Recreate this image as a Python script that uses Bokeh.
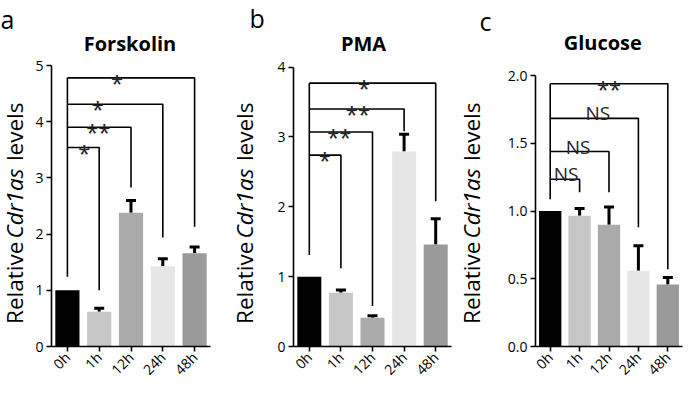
from math import pi
from bokeh.plotting import figure
from bokeh.layouts import row
from bokeh.models import ColumnDataSource, Whisker, TeeHead, Label, FixedTicker, NumeralTickFormatter
from bokeh.embed import file_html
from bokeh.resources import INLINE

# ---------------- data ----------------
categories = ["0h", "1h", "12h", "24h", "48h"]
bar_colors = ["#000000", "#c6c6c6", "#aaaaaa", "#e6e6e6", "#9a9a9a"]

forskolin_mean = [1.00, 0.62, 2.38, 1.43, 1.66]
forskolin_err = [0.00, 0.06, 0.22, 0.13, 0.11]
forskolin_bracket_level = [3.54, 3.90, 4.31, 4.78]
forskolin_bracket_end = [1.00, 2.83, 1.94, 2.13]
forskolin_bracket_start = 1.24
forskolin_sig = ["*", "**", "*", "*"]

pma_mean = [1.00, 0.77, 0.41, 2.79, 1.46]
pma_err = [0.00, 0.04, 0.03, 0.25, 0.37]
pma_bracket_level = [2.74, 3.07, 3.40, 3.77]
pma_bracket_end = [1.12, 0.58, 3.08, 2.08]
pma_bracket_start = 1.31
pma_sig = ["*", "**", "**", "*"]

glucose_mean = [1.00, 0.965, 0.90, 0.56, 0.457]
glucose_err = [0.00, 0.055, 0.13, 0.185, 0.053]
glucose_bracket_level = [1.235, 1.44, 1.685, 1.94]
glucose_bracket_end = [1.14, 1.14, 0.88, 0.57]
glucose_bracket_start = 1.087
glucose_sig = ["NS", "NS", "NS", "**"]

y_ticks_forskolin = [0, 1, 2, 3, 4, 5]
y_ticks_pma = [0, 1, 2, 3, 4]
y_ticks_glucose = [0, 0.5, 1.0, 1.5, 2.0]

ylabel_parts = ["Relative", "Cdr1as", "levels"]
ylabel_styles = ["normal", "italic", "normal"]

# ---------------- layout / style (page pixel geometry) ----------------
FONT = "Open Sans"
H = 391
PAGE0 = 8            # page margin
FRAME_BOTTOM = 354   # page y of the x axis
BB = H - (FRAME_BOTTOM - PAGE0)  # bottom border

panels = [
    dict(letter="a", title="Forskolin", mean=forskolin_mean, err=forskolin_err,
         lev=forskolin_bracket_level, end=forskolin_bracket_end, start=forskolin_bracket_start,
         sig=forskolin_sig, ticks=y_ticks_forskolin, fmt="0", ymax=5,
         strip=(8, 37), chart=(37, 236), frame=(59, 218), top=73,
         sig_x=[0.53, 0.97, 0.96, 1.56],
         title_p=(137.5, 50.5), letter_p=(8, 29), ylab_x=22),
    dict(letter="b", title="PMA", mean=pma_mean, err=pma_err,
         lev=pma_bracket_level, end=pma_bracket_end, start=pma_bracket_start,
         sig=pma_sig, ticks=y_ticks_pma, fmt="0", ymax=4,
         strip=(236, 279), chart=(279, 462), frame=(301, 459), top=74.6,
         sig_x=[0.49, 0.95, 1.54, 1.73],
         title_p=(371, 50.5), letter_p=(257, 28), ylab_x=252),
    dict(letter="c", title="Glucose", mean=glucose_mean, err=glucose_err,
         lev=glucose_bracket_level, end=glucose_bracket_end, start=glucose_bracket_start,
         sig=glucose_sig, ticks=y_ticks_glucose, fmt="0.0", ymax=2.0,
         strip=(462, 511), chart=(511, 692), frame=(543, 690), top=83.2,
         sig_x=[0.54, 0.95, 1.62, 2.0],
         title_p=(610.3, 50), letter_p=(487, 31), ylab_x=479),
]

X0, X1 = -0.5, 4.5
YLAB_FONT = 22.5
YLAB_BOTTOM = 331                 # page y where the rotated y label starts
YLAB_WIDTHS = [85.0, 74.0, 59.0]  # estimated length of each piece (px)
YLAB_GAP = 6                      # word space (px)

# anchor positions of the rotated pieces (Bokeh centres a left-aligned rotated
# label one text-length above its anchor)
ylab_anchor = []
_b = YLAB_BOTTOM
for wdt in YLAB_WIDTHS:
    ylab_anchor.append(_b + wdt / 2)
    _b -= wdt + YLAB_GAP

figs = []
for spec in panels:
    # ---------- strip with panel letter and y label ----------
    s0, s1 = spec["strip"]
    sw = s1 - s0
    st = figure(width=sw, height=H, x_range=(0, sw), y_range=(0, H),
                output_backend="svg", toolbar_location=None,
                x_axis_location=None, y_axis_location=None,
                min_border_left=0, min_border_right=0, min_border_top=0, min_border_bottom=0)
    st.outline_line_color = None
    st.grid.visible = False
    st.background_fill_color = "white"
    st.border_fill_color = "white"

    lx, ly = spec["letter_p"]
    st.add_layout(Label(x=lx - s0, y=H - (ly - PAGE0), text=spec["letter"], text_font=FONT,
                        text_font_size="25px", text_align="left", text_baseline="alphabetic",
                        text_color="black"))
    for txt, style, ay in zip(ylabel_parts, ylabel_styles, ylab_anchor):
        st.add_layout(Label(x=spec["ylab_x"] - s0, y=H - (ay - PAGE0), text=txt, text_font=FONT,
                            angle=pi / 2, text_font_size=f"{YLAB_FONT}px", text_font_style=style,
                            text_align="left", text_baseline="middle", text_color="black"))
    figs.append(st)

    # ---------- chart ----------
    c0, c1 = spec["chart"]
    f0, f1 = spec["frame"]
    ymax = spec["ymax"]
    top_px = spec["top"] - PAGE0
    fb_px = FRAME_BOTTOM - PAGE0
    ppu = (fb_px - top_px) / ymax          # pixels per y unit
    y_end = fb_px / ppu
    xppu = (f1 - f0) / (X1 - X0)

    p = figure(width=c1 - c0, height=H, x_range=(X0, X1), y_range=(0, y_end),
               output_backend="svg", toolbar_location=None,
               min_border_left=f0 - c0, min_border_right=c1 - f1,
               min_border_top=0, min_border_bottom=BB)
    p.outline_line_color = None
    p.xgrid.visible = False
    p.ygrid.visible = False
    p.background_fill_color = "white"
    p.border_fill_color = "white"

    idx = list(range(len(categories)))
    src = ColumnDataSource(dict(x=idx, top=spec["mean"], color=bar_colors))
    p.vbar(x="x", top="top", bottom=0, width=0.76, fill_color="color", line_color=None, source=src)

    # error bars (upper only)
    ex = [i for i, e in zip(idx, spec["err"]) if e > 0]
    elo = [m for m, e in zip(spec["mean"], spec["err"]) if e > 0]
    ehi = [m + e for m, e in zip(spec["mean"], spec["err"]) if e > 0]
    esrc = ColumnDataSource(dict(base=ex, lower=elo, upper=ehi))
    p.add_layout(Whisker(base="base", lower="lower", upper="upper", source=esrc,
                         line_width=3, line_color="black", lower_head=None,
                         upper_head=TeeHead(size=10, line_width=3, line_color="black")))

    # brackets
    top_level = max(spec["lev"])
    xs = [[0, 0]]
    ys = [[spec["start"], top_level]]
    for k, (lv, en) in enumerate(zip(spec["lev"], spec["end"])):
        tgt = k + 1
        xs.append([0, tgt, tgt])
        ys.append([lv, lv, en])
    p.multi_line(xs=xs, ys=ys, line_color="black", line_width=1.6)

    for sx, lv, s in zip(spec["sig_x"], spec["lev"], spec["sig"]):
        star = "*" in s
        p.add_layout(Label(x=sx, y=lv, text=s, text_font=FONT,
                           text_font_size="22px" if star else "19px",
                           text_color="#222222", text_align="center",
                           text_baseline="alphabetic",
                           y_offset=-4 if star else 5))

    # title
    tx, ty = spec["title_p"]
    p.add_layout(Label(x=X0 + (tx - f0) / xppu, y=(FRAME_BOTTOM - ty) / ppu, text=spec["title"],
                       text_font=FONT, text_font_size="20px", text_font_style="bold",
                       text_align="center", text_baseline="alphabetic", text_color="black"))

    # axes
    p.xaxis.ticker = FixedTicker(ticks=idx)
    p.xaxis.major_label_overrides = {i: c for i, c in zip(idx, categories)}
    p.xaxis.major_label_orientation = pi / 4
    p.yaxis.ticker = FixedTicker(ticks=spec["ticks"])
    p.yaxis.formatter = NumeralTickFormatter(format=spec["fmt"])
    p.yaxis.bounds = (0, ymax)
    for ax in (p.xaxis, p.yaxis):
        ax.axis_line_width = 1.6
        ax.axis_line_color = "black"
        ax.major_tick_line_width = 1.6
        ax.major_tick_line_color = "black"
        ax.major_tick_in = 0
        ax.major_tick_out = 5
        ax.minor_tick_line_color = None
        ax.major_label_text_font = FONT
        ax.major_label_text_font_size = "14px"
        ax.major_label_text_color = "black"
        ax.major_label_standoff = 3
    figs.append(p)

layout = row(*figs)
open("out.html", "w").write(file_html(layout, INLINE))
